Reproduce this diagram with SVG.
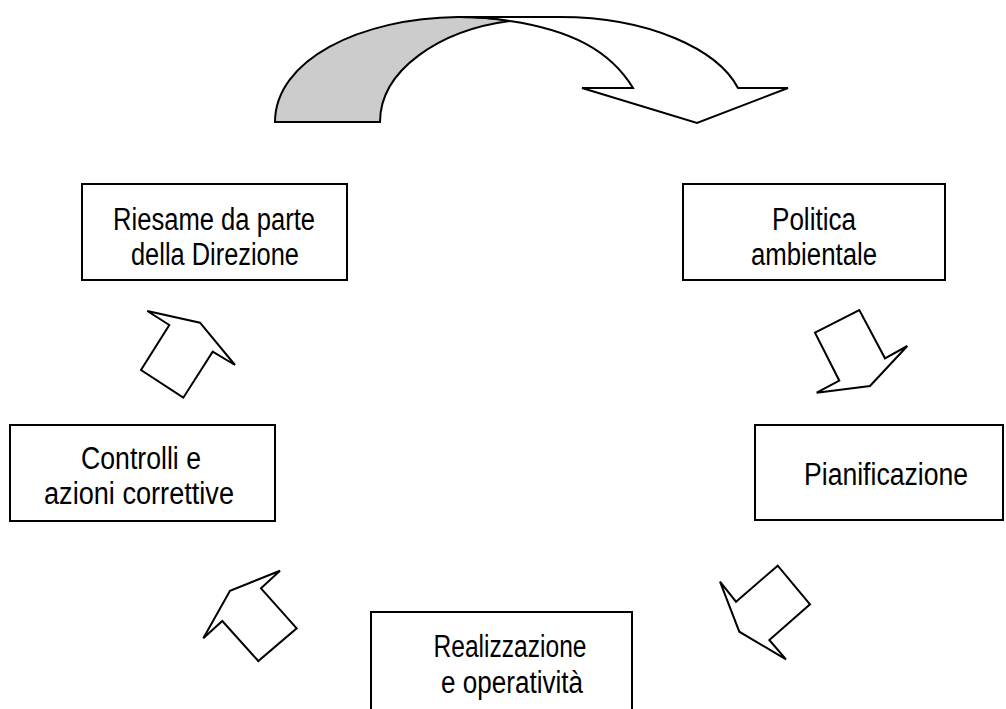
<svg xmlns="http://www.w3.org/2000/svg" width="1006" height="709" viewBox="0 0 1006 709">
<style>
.box{fill:#fff;stroke:#000;stroke-width:2}
.arr{fill:#fff;stroke:#000;stroke-width:2;stroke-linejoin:miter}
.t{font-family:"Liberation Sans Narrow","Arial Narrow","Liberation Sans",Arial,sans-serif;font-size:31px;fill:#000;text-anchor:middle}
</style>
<rect width="1006" height="709" fill="#fff"/>
<g id="connectors">
<g id="top-arrow">
<path d="M275,122 C275,60 360,18 458,17 Q488,17 510,21 C440,30 380,70 380,122 Z" fill="#cccccc" stroke="#000" stroke-width="2"/>
<path d="M458,17 L560,17 C650,17 718,50 738,88 L788,88 L697,123 L582,88 L633,88 C610,50 570,30 510,21 Q488,17 458,17 Z" class="arr"/>
</g>
<polygon id="arrow-right1" class="arr" points="815,332.7 859.3,310 885,358.3 907.3,346 870,386 816.7,392.7 839.3,380.7"/>
<polygon id="arrow-right2" class="arr" points="720,581.7 736,601.7 777.7,565.7 810,604.3 769.3,640 786,659.3 739.3,631.7"/>
<polygon id="arrow-left1" class="arr" points="203.3,638.3 222.3,621 258.3,661 296.7,628.3 261,588.3 280,570.7 230,590.7"/>
<polygon id="arrow-left2" class="arr" points="147.3,311 169.3,325 141,370 183.3,397.7 212.7,351.7 235,365 200,322.7"/>
</g>
<g id="riesame">
<rect class="box" x="82" y="184" width="265" height="96"/>
<text class="t" x="214" y="230" textLength="202" lengthAdjust="spacingAndGlyphs">Riesame da parte</text>
<text class="t" x="215" y="265" textLength="168" lengthAdjust="spacingAndGlyphs">della Direzione</text>
</g>
<g id="politica">
<rect class="box" x="683" y="184" width="262" height="96"/>
<text class="t" x="814" y="230" textLength="84" lengthAdjust="spacingAndGlyphs">Politica</text>
<text class="t" x="814" y="265" textLength="126" lengthAdjust="spacingAndGlyphs">ambientale</text>
</g>
<g id="pianificazione">
<rect class="box" x="755" y="425" width="248" height="95"/>
<text class="t" x="886" y="485" textLength="164" lengthAdjust="spacingAndGlyphs">Pianificazione</text>
</g>
<g id="controlli">
<rect class="box" x="10" y="425" width="265" height="96"/>
<text class="t" x="141" y="469" textLength="120" lengthAdjust="spacingAndGlyphs">Controlli e</text>
<text class="t" x="139" y="504" textLength="190" lengthAdjust="spacingAndGlyphs">azioni correttive</text>
</g>
<g id="realizzazione">
<rect class="box" x="371" y="612" width="261" height="110"/>
<text class="t" x="510" y="657" textLength="153" lengthAdjust="spacingAndGlyphs">Realizzazione</text>
<text class="t" x="512" y="693" textLength="142" lengthAdjust="spacingAndGlyphs">e operatività</text>
</g>
</svg>
